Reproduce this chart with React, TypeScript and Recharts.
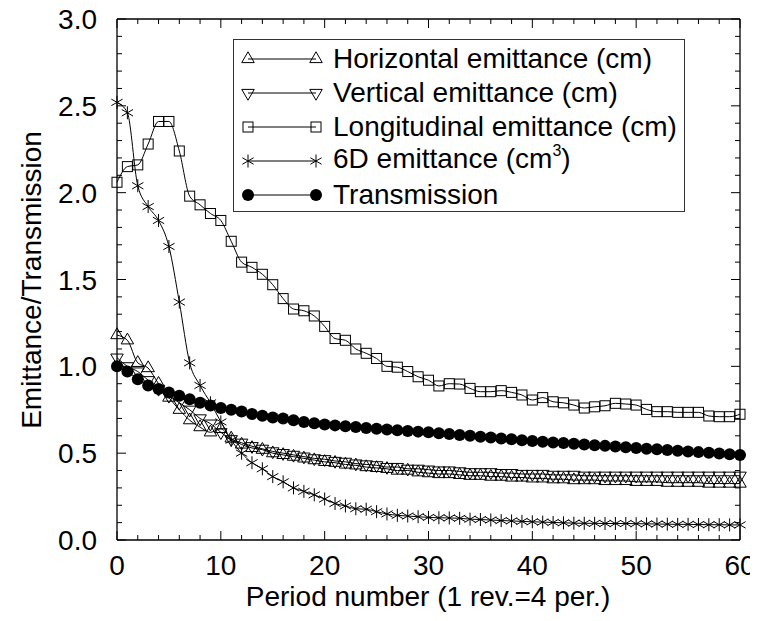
import { LineChart, Line, XAxis, YAxis } from "recharts";

const PERIODS = Array.from({ length: 61 }, (_, i) => i);

const HORIZONTAL = [
  1.18, 1.15, 1.02, 0.99, 0.9, 0.82, 0.75, 0.69, 0.65, 0.62, 0.64, 0.585, 0.55, 0.53, 0.52, 0.5,
  0.49, 0.48, 0.47, 0.46, 0.45, 0.445, 0.435, 0.43, 0.42, 0.415, 0.41, 0.4, 0.4, 0.39, 0.385,
  0.38, 0.38, 0.375, 0.37, 0.37, 0.365, 0.365, 0.36, 0.36, 0.355, 0.355, 0.35, 0.35, 0.345,
  0.345, 0.345, 0.34, 0.34, 0.34, 0.335, 0.335, 0.335, 0.33, 0.33, 0.33, 0.33, 0.325, 0.325,
  0.325, 0.325,
];

const VERTICAL = [
  1.05, 1.0, 0.97, 0.92, 0.87, 0.83, 0.79, 0.75, 0.7, 0.67, 0.62, 0.58, 0.56, 0.54, 0.525, 0.51,
  0.5, 0.49, 0.48, 0.47, 0.465, 0.455, 0.45, 0.44, 0.435, 0.43, 0.42, 0.42, 0.41, 0.41, 0.405,
  0.4, 0.4, 0.395, 0.39, 0.39, 0.39, 0.385, 0.385, 0.38, 0.38, 0.38, 0.375, 0.375, 0.375, 0.37,
  0.37, 0.37, 0.37, 0.37, 0.37, 0.37, 0.37, 0.37, 0.37, 0.37, 0.37, 0.37, 0.37, 0.37, 0.37,
];

const LONGITUDINAL = [
  2.06, 2.15, 2.16, 2.28, 2.41, 2.41, 2.24, 1.98, 1.93, 1.88, 1.84, 1.72, 1.6, 1.57, 1.53, 1.47,
  1.39, 1.33, 1.32, 1.29, 1.23, 1.16, 1.15, 1.1, 1.075, 1.045, 1.0, 0.995, 0.97, 0.94, 0.92,
  0.887, 0.9, 0.898, 0.873, 0.854, 0.854, 0.86, 0.85, 0.835, 0.806, 0.82, 0.796, 0.79, 0.777,
  0.76, 0.767, 0.773, 0.787, 0.783, 0.777, 0.752, 0.739, 0.739, 0.735, 0.735, 0.735, 0.714,
  0.71, 0.71, 0.724,
];

const SIX_D = [
  2.52, 2.46, 2.04, 1.92, 1.84, 1.69, 1.37, 1.02, 0.89, 0.79, 0.68, 0.575, 0.5, 0.445, 0.41,
  0.365, 0.335, 0.3, 0.28, 0.26, 0.236, 0.21, 0.196, 0.18, 0.177, 0.163, 0.15, 0.142, 0.138,
  0.134, 0.13, 0.128, 0.127, 0.125, 0.12, 0.118, 0.115, 0.112, 0.11, 0.107, 0.105, 0.103, 0.101,
  0.099, 0.097, 0.096, 0.096, 0.095, 0.095, 0.095, 0.094, 0.093, 0.092, 0.091, 0.09, 0.09,
  0.089, 0.088, 0.088, 0.087, 0.087,
];

const TRANSMISSION = [
  1.0, 0.97, 0.925, 0.89, 0.87, 0.85, 0.83, 0.81, 0.79, 0.775, 0.76, 0.75, 0.74, 0.725, 0.715,
  0.705, 0.7, 0.69, 0.68, 0.672, 0.665, 0.66, 0.655, 0.65, 0.645, 0.64, 0.636, 0.632, 0.628,
  0.624, 0.62, 0.615, 0.61, 0.605, 0.6, 0.595, 0.59, 0.585, 0.58, 0.575, 0.57, 0.566, 0.562,
  0.558, 0.554, 0.55, 0.546, 0.542, 0.538, 0.534, 0.53, 0.526, 0.522, 0.518, 0.514, 0.51,
  0.506, 0.502, 0.498, 0.494, 0.49,
];

const X_TICKS = Array.from({ length: 31 }, (_, i) => i * 2);
const Y_TICKS = Array.from({ length: 31 }, (_, i) => i / 10);

// layout
const W = 758;
const H = 621;
const M = { top: 19, right: 18, bottom: 0, left: 0 };
const Y_AXIS_W = 117;
const X_AXIS_H = 81;
const PW = W - M.left - M.right - Y_AXIS_W; // plot width
const PH = H - M.top - M.bottom - X_AXIS_H; // plot height

const FONT = "'Liberation Sans', Arial, Helvetica, sans-serif";
const FS = 28;
const FRAME_W = 1.3;

const data = PERIODS.map((p, i) => ({
  p,
  h: HORIZONTAL[i],
  v: VERTICAL[i],
  l: LONGITUDINAL[i],
  s: SIX_D[i],
  t: TRANSMISSION[i],
}));

// markers
const TriUp = ({ cx, cy, s = 12.5 }: any) => {
  const h = s * 0.866;
  return (
    <polygon
      points={`${cx},${cy - (2 * h) / 3} ${cx - s / 2},${cy + h / 3} ${cx + s / 2},${cy + h / 3}`}
      fill="none"
      stroke="#000"
      strokeWidth={1}
    />
  );
};

const TriDown = ({ cx, cy, s = 12.5 }: any) => {
  const h = s * 0.866;
  return (
    <polygon
      points={`${cx},${cy + (2 * h) / 3} ${cx - s / 2},${cy - h / 3} ${cx + s / 2},${cy - h / 3}`}
      fill="none"
      stroke="#000"
      strokeWidth={1}
    />
  );
};

const Sq = ({ cx, cy, s = 10 }: any) => (
  <rect x={cx - s / 2} y={cy - s / 2} width={s} height={s} fill="none" stroke="#000" strokeWidth={1} />
);

const Star = ({ cx, cy, r = 6.5 }: any) => {
  const a = r * 0.866;
  const b = r * 0.5;
  return (
    <g stroke="#000" strokeWidth={1}>
      <line x1={cx} y1={cy - r} x2={cx} y2={cy + r} />
      <line x1={cx - a} y1={cy - b} x2={cx + a} y2={cy + b} />
      <line x1={cx - a} y1={cy + b} x2={cx + a} y2={cy - b} />
    </g>
  );
};

const Dot = ({ cx, cy, r = 6 }: any) => <circle cx={cx} cy={cy} r={r} fill="#000" />;

const mk = (Comp: any) => (props: any) => {
  if (props.cx == null || props.cy == null) return <g key={props.index} />;
  return <Comp key={props.index} cx={props.cx} cy={props.cy} />;
};

// inward ticks; each axis tick also draws its mirror on the opposite side of the box
const isMajorX = (v: number) => v % 10 === 0;
const isMajorY = (v: number) => Math.abs(v * 2 - Math.round(v * 2)) < 1e-6;

const BottomTick = ({ x, y, payload }: any) => {
  const v = payload.value;
  const major = isMajorX(v);
  const len = major ? 9 : 5;
  const top = y - PH;
  return (
    <g>
      <line x1={x} x2={x} y1={y} y2={y - len} stroke="#000" />
      <line x1={x} x2={x} y1={top} y2={top + len} stroke="#000" />
      {v === 0 && <line x1={x} x2={x + PW} y1={top} y2={top} stroke="#000" strokeWidth={FRAME_W} />}
      {major && (
        <text x={x} y={y + 35} textAnchor="middle" fontSize={FS} fontFamily={FONT} fill="#000">
          {v}
        </text>
      )}
    </g>
  );
};

const LeftTick = ({ x, y, payload }: any) => {
  const v = payload.value;
  const major = isMajorY(v);
  const len = major ? 9 : 5;
  const right = x + PW;
  return (
    <g>
      <line x1={x} x2={x + len} y1={y} y2={y} stroke="#000" />
      <line x1={right} x2={right - len} y1={y} y2={y} stroke="#000" />
      {v === 0 && <line x1={right} x2={right} y1={y} y2={y - PH} stroke="#000" strokeWidth={FRAME_W} />}
      {major && (
        <text x={x - 20} y={y + 10} textAnchor="end" fontSize={FS} fontFamily={FONT} fill="#000">
          {v.toFixed(1)}
        </text>
      )}
    </g>
  );
};

const LEGEND = [
  { label: <>Horizontal emittance (cm)</>, Marker: TriUp },
  { label: <>Vertical emittance (cm)</>, Marker: TriDown },
  { label: <>Longitudinal emittance (cm)</>, Marker: Sq },
  {
    label: (
      <>
        6D emittance (cm<span style={{ fontSize: 16, position: "relative", top: -12 }}>3</span>)
      </>
    ),
    Marker: Star,
  },
  { label: <>Transmission</>, Marker: Dot },
];

export default function App() {
  return (
    <div style={{ position: "relative", width: W, height: H, margin: -8, fontFamily: FONT, color: "#000" }}>
      <LineChart width={W} height={H} data={data} margin={M}>
        <XAxis
          dataKey="p"
          type="number"
          domain={[0, 60]}
          ticks={X_TICKS}
          interval={0}
          height={X_AXIS_H}
          tickSize={0}
          tickMargin={0}
          tickLine={false}
          axisLine={{ stroke: "#000", strokeWidth: FRAME_W }}
          tick={<BottomTick />}
        />
        <YAxis
          type="number"
          domain={[0, 3]}
          ticks={Y_TICKS}
          interval={0}
          width={Y_AXIS_W}
          tickSize={0}
          tickMargin={0}
          tickLine={false}
          axisLine={{ stroke: "#000", strokeWidth: FRAME_W }}
          tick={<LeftTick />}
        />
        <Line dataKey="t" type="monotone" stroke="#000" strokeWidth={1} dot={mk(Dot)} isAnimationActive={false} />
        <Line dataKey="h" type="monotone" stroke="#000" strokeWidth={1} dot={mk(TriUp)} isAnimationActive={false} />
        <Line dataKey="v" type="monotone" stroke="#000" strokeWidth={1} dot={mk(TriDown)} isAnimationActive={false} />
        <Line dataKey="l" type="monotone" stroke="#000" strokeWidth={1} dot={mk(Sq)} isAnimationActive={false} />
        <Line dataKey="s" type="monotone" stroke="#000" strokeWidth={1} dot={mk(Star)} isAnimationActive={false} />
      </LineChart>

      {/* legend box */}
      <div
        style={{
          position: "absolute",
          left: 233,
          top: 39,
          width: 452,
          height: 173,
          boxSizing: "border-box",
          border: "1px solid #333",
          background: "#fff",
          paddingTop: 2,
        }}
      >
        {LEGEND.map(({ label, Marker }, i) => (
          <div key={i} style={{ position: "relative", height: 34, display: "flex", alignItems: "center" }}>
            <svg width={100} height={34} style={{ position: "absolute", left: 0, top: 0 }}>
              <line x1={14} x2={82} y1={17} y2={17} stroke="#000" strokeWidth={1} />
              <Marker cx={14} cy={17} />
              <Marker cx={82} cy={17} />
            </svg>
            <span style={{ position: "absolute", left: 99, fontSize: FS, lineHeight: "34px", whiteSpace: "nowrap" }}>
              {label}
            </span>
          </div>
        ))}
      </div>

      {/* axis titles */}
      <div
        style={{
          position: "absolute",
          left: 32 - 200,
          top: 280 - 16,
          width: 400,
          height: 32,
          lineHeight: "32px",
          textAlign: "center",
          fontSize: FS,
          transform: "rotate(-90deg)",
          whiteSpace: "nowrap",
        }}
      >
        Emittance/Transmission
      </div>
      <div
        style={{
          position: "absolute",
          left: 428 - 300,
          top: 581,
          width: 600,
          height: 32,
          lineHeight: "32px",
          textAlign: "center",
          fontSize: FS,
          whiteSpace: "nowrap",
        }}
      >
        Period number (1 rev.=4 per.)
      </div>
    </div>
  );
}
